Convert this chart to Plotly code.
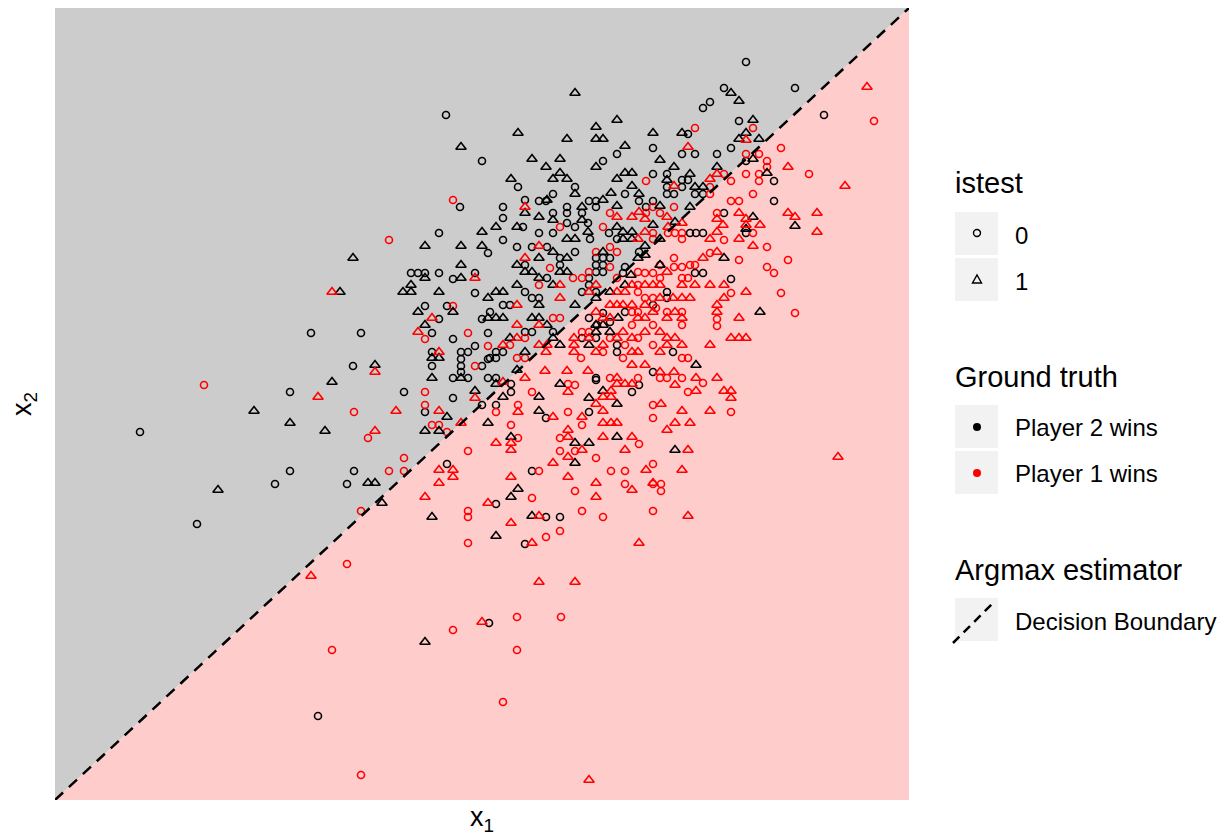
import plotly.graph_objects as go

# ---------------- data (x1, x2) ----------------
X1_RANGE = [55, 909]
X2_RANGE = [0, 792]
BOUNDARY_X1 = [55, 909]
BOUNDARY_X2 = [0, 792]

# Ground truth: Player 2 wins, istest = 0 (black circles)
p2_test0 = [
    [446,685],[482,639],[460,593],
    [688,666],[653,652],[617,646],[603,639],[682,646],[518,613],[653,626],[667,626],[682,620],[667,613],[667,606],[674,606],[682,613],[688,620],[575,613],[553,606],[625,606],[546,599],[539,599],[525,600],[503,593],[567,593],[567,587],[589,599],[596,599],[596,593],[639,599],[646,593],[653,599],[553,587],[582,587],[503,582],
    [746,738],[795,712],[724,712],[710,698],[703,692],[824,685],[739,679],[731,652],[695,646],[717,646],[746,639],[774,619],[695,606],[703,606],[774,599],[724,587],
    [439,567],[488,547],[411,527],[418,527],[425,527],[439,527],[453,521],[475,527],[475,507],[425,494],[447,494],[439,481],[482,481],[432,467],[311,467],[361,467],[488,467],[453,461],[475,454],[432,448],[461,448],[468,448],[461,441],[432,434],[461,434],[482,434],[488,441],[353,434],[461,428],[453,422],[468,422],[488,422],
    [523,573],[567,577],[588,577],[575,573],[503,560],[539,567],[553,567],[609,567],[617,561],[590,561],[532,553],[547,553],[517,553],[596,542],[603,542],[610,542],[639,548],[560,542],[575,548],[525,535],[560,535],[596,535],[603,535],[596,528],[603,528],[625,533],[623,527],[547,522],[589,522],[525,508],[589,515],[596,508],[582,508],[667,508],[667,502],[532,502],[539,502],[653,495],[503,495],[510,495],[490,488],[625,488],[603,487],[589,482],[597,475],[610,478],[553,468],[525,468],[532,468],[582,462],[596,462],[617,455],[617,448],[673,448],[496,448],[503,448],[496,442],[490,442],[653,428],[596,422],[496,422],
    [746,567],[690,567],[696,567],[703,567],[695,527],[703,527],[731,521],
    [290,408],[404,408],[425,388],[453,402],[482,395],[354,329],[290,329],[347,316],[447,336],
    [511,416],[511,408],[496,395],[546,382],[589,388],[596,420],[632,408],[639,415],[532,329],[496,296],[546,283],[560,283],[525,256],
    [140,368],[275,316],[197,276],
    [489,177],[318,84],
]

# Ground truth: Player 2 wins, istest = 1 (black triangles)
p2_test1 = [
    [461,653],
    [575,707],[617,680],[596,673],[518,667],[567,661],[596,661],[603,661],[653,667],[682,667],[625,654],[532,641],[560,641],[546,633],[596,633],[660,640],[674,633],[560,627],[553,621],[567,621],[511,621],[625,627],[632,627],[617,621],[632,614],[667,620],[575,606],[611,607],[639,606],[547,600],[525,587],[582,593],[603,600],[617,594],[660,594],[539,583],
    [731,707],[739,699],[753,680],[746,667],[739,661],[759,661],[753,641],[717,633],[767,627],[690,626],[695,613],[703,613],[753,583],[690,593],
    [425,554],[461,554],[482,568],[482,554],[353,542],[461,535],[425,522],[461,522],[340,508],[403,508],[411,508],[411,515],[439,508],[488,502],[453,488],[418,488],[488,482],[425,475],[432,442],[439,442],[375,435],[432,422],[461,422],[332,418],
    [496,573],[517,573],[553,580],[582,580],[588,568],[617,573],[653,575],[675,578],[567,561],[575,561],[623,568],[632,568],[623,561],[632,561],[660,561],[603,548],[645,554],[638,542],[645,545],[539,542],[553,548],[567,542],[660,535],[517,535],[525,528],[532,528],[567,528],[560,528],[631,525],[539,522],[553,515],[517,515],[496,508],[503,508],[625,515],[610,508],[596,502],[575,495],[539,495],[496,482],[503,482],[532,482],[539,482],[547,475],[596,475],[603,475],[618,482],[596,468],[610,468],[510,462],[560,455],[553,462],[589,455],[525,448],[517,430],
    [746,571],[795,574],[724,542],[760,488],[696,435],
    [475,409],[447,383],[425,369],[439,369],[290,377],[325,369],[368,317],[375,317],[382,297],[432,283],[488,377],
    [496,416],[503,403],[539,403],[539,389],[560,416],[589,402],[603,409],[617,396],[511,363],[575,357],[589,357],[575,337],[617,363],[675,350],[518,311],[511,303],[532,284],[496,264],
    [254,389],[218,310],
    [425,158],
]

# Ground truth: Player 1 wins, istest = 0 (red circles)
p1_test0 = [
    [453,600],
    [646,619],[653,593],[674,593],[610,587],[646,587],[660,587],
    [874,679],[695,672],[753,672],[781,652],[746,646],[759,646],[767,639],[767,633],[809,626],[746,626],[759,626],[724,626],[731,619],[759,619],[710,613],[710,606],[753,606],[731,599],[739,599],[717,587],
    [389,560],[453,494],[468,467],[425,461],[488,454],[475,434],
    [560,573],[603,573],[653,567],[653,561],[668,567],[675,567],[682,567],[682,561],[596,548],[610,553],[617,548],[674,542],[660,535],[674,533],[682,533],[550,532],[610,533],[638,528],[645,527],[653,527],[682,522],[688,522],[573,522],[582,522],[589,528],[617,522],[660,522],[638,515],[638,508],[645,502],[653,502],[539,515],[656,492],[632,488],[638,488],[667,488],[682,488],[553,482],[560,482],[632,475],[653,475],[682,475],[582,468],[589,468],[525,462],[510,455],[610,462],[625,455],[638,462],[653,455],[682,442],[688,442],[517,442],[525,442],[581,442],[603,448],[623,442],[610,422],[638,422],[660,422],[667,422],[682,422],
    [724,560],[753,567],[767,553],[739,540],[710,547],[767,533],[774,527],[788,540],[695,535],[690,535],[731,507],[781,507],[795,487],[717,481],[717,474],[703,417],
    [425,408],[425,395],[354,388],[432,375],[439,375],[447,368],[368,362],[468,349],[404,342],[389,329],[404,329],[361,289],[468,289],[468,283],[468,257],
    [496,388],[532,408],[518,395],[568,416],[575,415],[568,388],[582,375],[653,395],[653,382],[688,408],[511,375],[518,362],[560,362],[560,349],[575,349],[639,356],[596,342],[539,329],[611,329],[625,329],[653,336],[575,309],[625,316],[653,316],[661,316],[661,309],[532,302],[582,289],[603,283],[653,289],[560,269],[546,263],
    [731,388],
    [204,415],
    [347,236],[517,183],[561,183],[453,170],[332,150],[517,150],[503,98],[361,25],
]

# Ground truth: Player 1 wins, istest = 1 (red triangles)
p1_test1 = [
    [688,653],[674,614],[525,593],[639,588],[632,583],[617,583],[667,583],
    [867,713],[746,660],[788,633],[710,621],[717,626],[845,614],[739,587],[788,587],[817,587],[795,583],
    [475,522],[332,508],[432,482],[418,468],[439,448],[375,428],
    [645,581],[645,568],[638,561],[668,573],[682,577],[539,554],[525,542],[667,528],[632,515],[645,515],[653,515],[660,515],[682,515],[560,515],[596,515],[589,508],[617,508],[625,508],[660,502],[673,502],[682,502],[560,502],[517,495],[610,495],[617,495],[623,495],[632,495],[645,495],[653,488],[596,488],[603,482],[610,482],[675,488],[667,482],[682,482],[638,482],[645,482],[517,475],[539,475],[660,468],[645,468],[623,468],[503,455],[517,462],[539,455],[547,455],[574,462],[574,455],[589,462],[603,455],[617,462],[632,462],[667,462],[675,462],[638,448],[660,448],[667,455],[682,455],[546,448],[574,448],[596,448],[632,448],[632,435],[645,435],[660,428],[674,428],[545,429],[567,429],[588,429],[617,422],[525,422],[503,418],
    [717,581],[746,581],[760,575],[723,575],[746,575],[817,568],[710,561],[717,568],[739,561],[753,554],[717,548],[703,542],[695,515],[710,515],[724,515],[746,508],[724,502],[717,495],[690,502],[717,488],[739,482],[731,462],[739,462],[746,462],[710,455],[696,422],[717,422],
    [318,403],[396,389],[439,389],[475,402],[461,377],[375,369],[439,330],[453,330],[453,323],[439,317],[425,303],[488,297],
    [518,388],[568,408],[553,383],[582,383],[596,396],[603,403],[611,403],[611,409],[617,416],[625,416],[632,416],[603,389],[603,377],[611,377],[617,377],[661,396],[675,415],[682,389],[675,377],[667,370],[511,357],[511,350],[496,357],[568,370],[568,363],[582,350],[568,343],[603,363],[632,363],[625,350],[688,350],[553,337],[511,323],[568,323],[646,330],[682,330],[596,317],[596,303],[632,310],[653,317],[539,284],[688,284],[511,277],[532,257],[639,257],
    [696,409],[724,409],[731,409],[731,402],[710,389],[690,377],[838,343],
    [311,224],[539,218],[575,218],[482,178],[589,20],
]

ISTEST_LABELS = ["0", "1"]
GT_LABELS = ["Player 2 wins", "Player 1 wins"]
EST_LABEL = "Decision Boundary"

# ---------------- figure ----------------
W, H = 1221, 837
FONT = "Liberation Sans, Arial, Helvetica, sans-serif"
BLACK, RED = "#000000", "#FF0000"
GRAY_BG, PINK_BG = "#CCCCCC", "#FFCCCC"

def P(px):
    return px / W

def Q(py):
    return 1 - py / H

fig = go.Figure()

x0, x1 = X1_RANGE
y0, y1 = X2_RANGE
fig.add_trace(go.Scatter(x=[x0, x0, x1, x0], y=[y0, y1, y1, y0], fill="toself",
                         fillcolor=GRAY_BG, line=dict(width=0), mode="lines",
                         hoverinfo="skip", showlegend=False))
fig.add_trace(go.Scatter(x=[x0, x1, x1, x0], y=[y0, y0, y1, y0], fill="toself",
                         fillcolor=PINK_BG, line=dict(width=0), mode="lines",
                         hoverinfo="skip", showlegend=False))

def add_pts(pts, symbol, color, size):
    xs = [p[0] for p in pts]
    ys = [p[1] for p in pts]
    fig.add_trace(go.Scatter(x=xs, y=ys, mode="markers",
                             marker=dict(symbol=symbol, size=size, color=color,
                                         line=dict(color=color, width=1.6)),
                             hoverinfo="skip", showlegend=False, cliponaxis=False))

add_pts(p2_test0, "circle-open", BLACK, 7)
add_pts(p1_test0, "circle-open", RED, 7)
add_pts(p2_test1, "triangle-up-open", BLACK, 9)
add_pts(p1_test1, "triangle-up-open", RED, 9)

fig.add_trace(go.Scatter(x=BOUNDARY_X1, y=BOUNDARY_X2, mode="lines",
                         line=dict(color=BLACK, width=2.5, dash="11px,8px"),
                         hoverinfo="skip", showlegend=False))

fig.update_layout(
    width=W, height=H,
    margin=dict(l=0, r=0, t=0, b=0),
    paper_bgcolor="white", plot_bgcolor="white",
    xaxis=dict(domain=[P(55), P(909)], range=X1_RANGE, showgrid=False, zeroline=False,
               showticklabels=False, ticks="", showline=False),
    yaxis=dict(domain=[Q(800), Q(8)], range=X2_RANGE, showgrid=False, zeroline=False,
               showticklabels=False, ticks="", showline=False),
    font=dict(family=FONT, color="black"),
)

annotations = []
shapes = []

def text(px, py, s, size, anchor="left", angle=0):
    annotations.append(dict(x=P(px), y=Q(py), xref="paper", yref="paper", text=s,
                            showarrow=False, xanchor=anchor, yanchor="middle",
                            xshift=-2 if anchor == "left" else 0,
                            textangle=angle, font=dict(size=size, family=FONT, color="black")))

# axis titles
text(482, 819, "x<sub>1</sub>", 27, anchor="center")
text(24, 404, "x<sub>2</sub>", 27, anchor="center", angle=-90)

TITLE_SIZE = 29
LABEL_SIZE = 24

def key_box(ytop):
    shapes.append(dict(type="rect", xref="paper", yref="paper",
                       x0=P(955), x1=P(998), y0=Q(ytop + 43), y1=Q(ytop),
                       fillcolor="#F2F2F2", line=dict(width=0), layer="above"))

# istest
text(955, 183, "istest", TITLE_SIZE)
key_box(212)
key_box(258)
shapes.append(dict(type="circle", xref="paper", yref="paper",
                   x0=P(973.5), x1=P(980.5), y0=Q(236.5), y1=Q(229.5),
                   line=dict(color=BLACK, width=1.4), layer="above"))
shapes.append(dict(type="path", xref="paper", yref="paper",
                   path=f"M {P(972.5)},{Q(283)} L {P(981.5)},{Q(283)} L {P(977)},{Q(275)} Z",
                   line=dict(color=BLACK, width=1.4), layer="above"))
text(1015, 235, ISTEST_LABELS[0], LABEL_SIZE)
text(1015, 281, ISTEST_LABELS[1], LABEL_SIZE)

# ground truth
text(955, 377, "Ground truth", TITLE_SIZE)
key_box(405)
key_box(451)
shapes.append(dict(type="circle", xref="paper", yref="paper",
                   x0=P(973), x1=P(981), y0=Q(431), y1=Q(423),
                   fillcolor=BLACK, line=dict(color=BLACK, width=0), layer="above"))
shapes.append(dict(type="circle", xref="paper", yref="paper",
                   x0=P(973), x1=P(981), y0=Q(477), y1=Q(469),
                   fillcolor=RED, line=dict(color=RED, width=0), layer="above"))
text(1015, 427, GT_LABELS[0], LABEL_SIZE)
text(1015, 473, GT_LABELS[1], LABEL_SIZE)

# estimator
text(955, 570, "Argmax estimator", TITLE_SIZE)
key_box(598)
shapes.append(dict(type="line", xref="paper", yref="paper",
                   x0=P(953), y0=Q(643), x1=P(994), y1=Q(602),
                   line=dict(color=BLACK, width=2.5, dash="9px,6px"), layer="above"))
text(1015, 621, EST_LABEL, LABEL_SIZE)

fig.update_layout(annotations=annotations, shapes=shapes)

fig.write_html("out.html")
